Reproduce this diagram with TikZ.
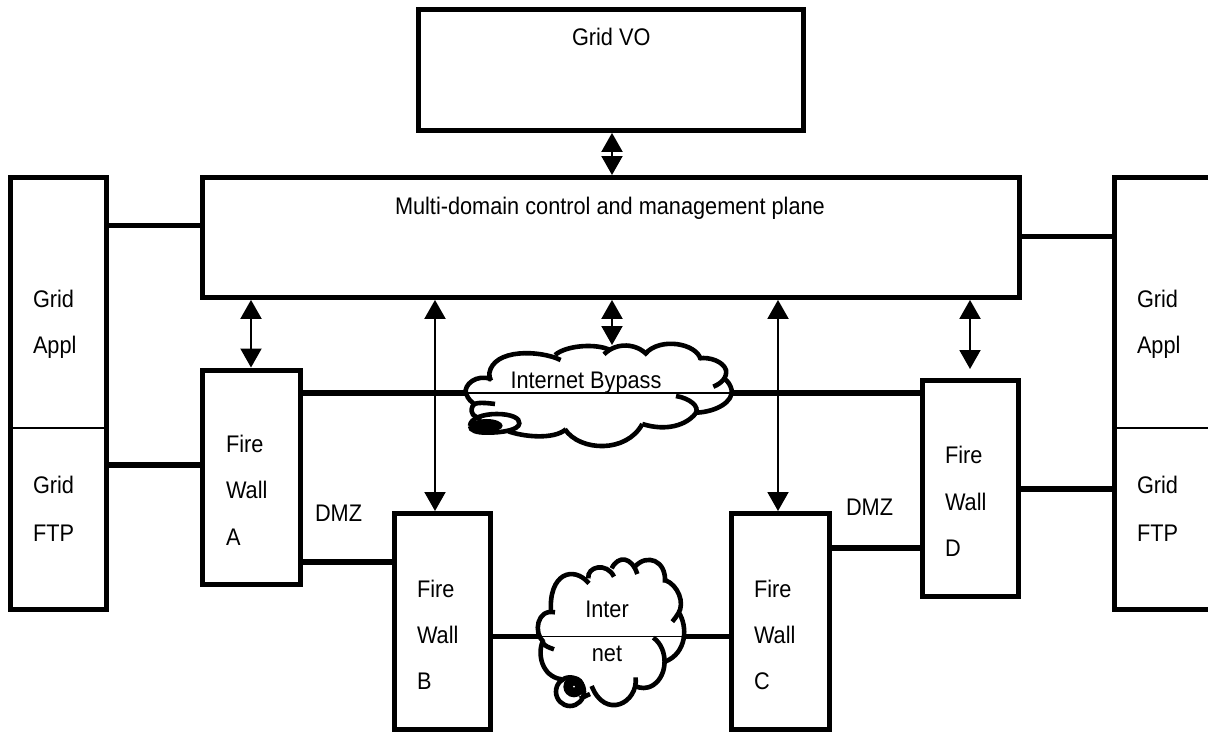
\documentclass[tikz,border=0pt]{standalone}
\usepackage{fontspec}
\usepackage{graphicx}
\setmainfont{Liberation Sans}
\usetikzlibrary{arrows.meta}
\newcommand{\condensed}[1]{\scalebox{0.905}[1]{#1}}
\tikzset{
  box/.style={draw=black,line width=5.4pt,fill=white,minimum width=#1,inner sep=0pt,anchor=north west},
  txt/.style={anchor=base west,inner sep=0pt,outer sep=0pt,font=\fontsize{24pt}{26pt}\selectfont},
  thick line/.style={line width=5.4pt},
  thin line/.style={line width=1.5pt},
  twoway/.style={line width=2pt,{Triangle[width=21pt,length=19pt]}-{Triangle[width=21pt,length=19pt]}},
  cloudline/.style={line width=4.6pt,line cap=butt}
}
\begin{document}
\begin{tikzpicture}[x=1pt,y=-1pt]
\useasboundingbox (0,0) rectangle (1208,732);
\clip (0,0) rectangle (1208,732);
% helper positions
\coordinate (xa) at (251,0);
\coordinate (xb) at (435,0);
\coordinate (xm) at (612,0);
\coordinate (xc) at (778,0);
\coordinate (xd) at (970,0);
\coordinate (cloudtop) at (612,345);
\coordinate (byL) at (465,393);
\coordinate (byR) at (730,393);
\coordinate (inL) at (540,636.5);
\coordinate (inR) at (683,636.5);
% boxes (anchors are the outer edges of the frame)
\node[box=385pt,minimum height=120.5pt] (vo) at (416,7) {};
\node[box=816.5pt,minimum height=119.5pt] (plane) at (200,175) {};
\node[box=96pt,minimum height=431.5pt] (gridL) at (8,175) {};
\node[box=96pt,minimum height=431.5pt] (gridR) at (1112,175) {};
\node[box=97.5pt,minimum height=214pt] (fwa) at (200,367.5) {};
\node[box=96pt,minimum height=216pt] (fwb) at (392,511) {};
\node[box=98pt,minimum height=216pt] (fwc) at (728.5,511) {};
\node[box=96pt,minimum height=216pt] (fwd) at (920,378) {};
% dividers
\draw[thin line] (gridL.west |- 0,428) -- (gridL.east |- 0,428);
\draw[thin line] (gridR.west |- 0,428) -- (gridR.east |- 0,428);
% plain connectors
\draw[thick line] (gridL.east |- 0,225.5) -- (plane.west |- 0,225.5);
\draw[thick line] (gridL.east |- 0,465) -- (fwa.west |- 0,465);
\draw[thick line] (plane.east |- 0,236.5) -- (gridR.west |- 0,236.5);
\draw[thick line] (fwd.east |- 0,489) -- (gridR.west |- 0,489);
\draw[thick line] (fwa.east |- byL) -- (byL);
\draw[thin line] (byL) -- (byR);
\draw[thick line] (byR) -- (fwd.west |- byR);
\draw[thick line] (fwa.east |- 0,562) -- (fwb.west |- 0,562);
\draw[thick line] (fwc.east |- 0,548) -- (fwd.west |- 0,548);
\draw[thick line] (fwb.east |- inL) -- (inL);
\draw[thin line] (inL) -- (inR);
\draw[thick line] (inR) -- (fwc.west |- inR);
% double arrows
\draw[twoway] (vo.south -| xm) -- (plane.north -| xm);
\draw[twoway] (plane.south -| xa) -- (fwa.north -| xa);
\draw[twoway] (plane.south -| xb) -- (fwb.north -| xb);
\draw[twoway] (plane.south -| xm) -- (cloudtop);
\draw[twoway] (plane.south -| xc) -- (fwc.north -| xc);
\draw[twoway] (plane.south -| xd) -- ([yshift=9pt]fwd.north -| xd);
% bypass cloud
\begin{scope}[shift={(440,290)},x=0.3333pt,y=-0.3333pt,cloudline]
\draw (165,342) .. controls (120,336) and (100,338) .. (97,350) .. controls (90,370) and (100,382) .. (125,385);
\draw (90,408) .. controls (90,385) and (130,372) .. (170,372) .. controls (215,372) and (240,385) .. (238,400) .. controls (236,420) and (190,428) .. (140,428) .. controls (110,428) and (90,422) .. (90,408);
\fill (140,407) ellipse (48 and 20);
\draw (205,424) .. controls (250,440) and (340,450) .. (378,418);
\draw (375,418) .. controls (420,485) and (560,490) .. (607,402);
\draw (607,402) .. controls (680,425) and (740,405) .. (767,370) .. controls (780,350) and (750,325) .. (708,318);
\draw (770,368) .. controls (830,365) and (880,335) .. (875,300) .. controls (872,285) and (862,272) .. (855,268);
\draw (820,290) .. controls (845,280) and (862,262) .. (858,240) .. controls (850,215) and (810,200) .. (778,205);
\draw (782,208) .. controls (770,160) and (660,140) .. (615,192);
\draw (622,195) .. controls (590,160) and (530,155) .. (492,193);
\draw (510,180) .. controls (470,160) and (380,165) .. (345,195);
\draw (362,210) .. controls (300,180) and (160,175) .. (148,250) .. controls (147,260) and (150,268) .. (153,272);
\draw (155,268) .. controls (110,250) and (70,285) .. (78,310) .. controls (85,330) and (95,335) .. (102,342);
\end{scope}
% internet cloud
\begin{scope}[shift={(490,560)},x=0.3333pt,y=-0.3333pt,cloudline]
\draw (297,70) .. controls (250,15) and (175,40) .. (183,157);
\draw (295,55) .. controls (290,20) and (350,5) .. (372,50);
\draw (365,25) .. controls (385,-15) and (425,-10) .. (442,42);
\draw (435,20) .. controls (470,-20) and (530,0) .. (525,68);
\draw (525,60) .. controls (565,75) and (585,130) .. (565,160) .. controls (560,170) and (552,178) .. (547,185);
\draw (565,155) .. controls (595,200) and (590,280) .. (525,305);
\draw (490,233) .. controls (535,265) and (535,345) .. (490,375) .. controls (470,388) and (450,385) .. (435,378);
\draw (437,352) .. controls (445,430) and (345,480) .. (305,378);
\draw (300,402) -- (270,416);
\draw (240,395) ellipse (42 and 43);
\fill (252,380) circle (32);
\fill[white] (252,380) circle (3);
\draw (195,157) .. controls (140,145) and (130,220) .. (160,245);
\draw (160,240) .. controls (140,280) and (155,350) .. (215,358);
\draw (192,268) .. controls (175,262) and (165,258) .. (160,250);
\end{scope}
% labels
\node[txt] (tvo) at (572,45) {\condensed{Grid VO}};
\node[txt] (tplane) at (395,214) {\condensed{Multi-domain control and management plane}};
\node[txt] (tgl1) at (33,307) {\condensed{Grid}};
\node[txt] (tgl2) at (33,353) {\condensed{Appl}};
\node[txt] (tgl3) at (33,493) {\condensed{Grid}};
\node[txt] (tgl4) at (33,541) {\condensed{FTP}};
\node[txt] (tgr1) at (1137,307) {\condensed{Grid}};
\node[txt] (tgr2) at (1137,353) {\condensed{Appl}};
\node[txt] (tgr3) at (1137,493) {\condensed{Grid}};
\node[txt] (tgr4) at (1137,541) {\condensed{FTP}};
\node[txt] (ta1) at (226,452) {\condensed{Fire}};
\node[txt] (ta2) at (226,498) {\condensed{Wall}};
\node[txt] (ta3) at (226,545) {\condensed{A}};
\node[txt] (tb1) at (417,597) {\condensed{Fire}};
\node[txt] (tb2) at (417,643) {\condensed{Wall}};
\node[txt] (tb3) at (417,689) {\condensed{B}};
\node[txt] (tc1) at (754,597) {\condensed{Fire}};
\node[txt] (tc2) at (754,643) {\condensed{Wall}};
\node[txt] (tc3) at (754,689) {\condensed{C}};
\node[txt] (td1) at (945,463) {\condensed{Fire}};
\node[txt] (td2) at (945,510) {\condensed{Wall}};
\node[txt] (td3) at (945,556) {\condensed{D}};
\node[txt] (dmzl) at (315,521) {\condensed{DMZ}};
\node[txt] (dmzr) at (846,515) {\condensed{DMZ}};
\node[txt] (tby) at (510.5,388) {\condensed{Internet Bypass}};
\node[txt,anchor=base] (tin1) at (607,617) {\condensed{Inter}};
\node[txt,anchor=base] (tin2) at (607,661) {\condensed{net}};
\end{tikzpicture}
\end{document}
